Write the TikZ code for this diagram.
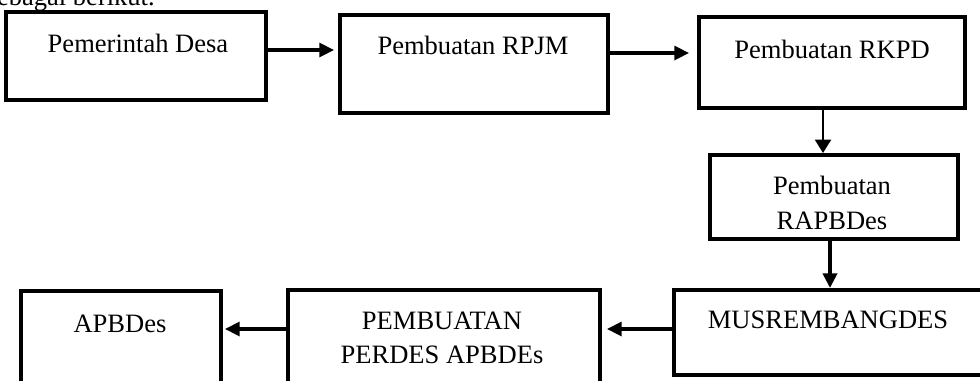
\documentclass[tikz,border=0pt]{standalone}
\usepackage{fontspec}
\setmainfont{Liberation Serif}
\usetikzlibrary{arrows.meta}
\begin{document}
\begin{tikzpicture}[x=0.75pt,y=-0.75pt,
  box/.style={draw,line width=3pt,inner sep=0pt,outer sep=0pt},
  lbl/.style={font=\fontsize{19.9}{26}\selectfont,align=center,inner sep=0pt},
  arr/.style={line width=2.3pt,-{Triangle[length=11pt,width=10.5pt]}},
  thinarr/.style={line width=1.5pt,-{Triangle[length=10pt,width=12pt]}}]
\useasboundingbox (0,0) rectangle (980,380);
\clip (0,0) rectangle (980,380);
% partially visible preceding text
\node[lbl,anchor=base east] (intro) at (155,5) {sebagai berikut.};
% boxes
\node[box,minimum width=195pt,minimum height=66pt] (b1) at (136,56) {};
\node[box,minimum width=201pt,minimum height=73.5pt] (b2) at (474,64) {};
\node[box,minimum width=199.5pt,minimum height=68.25pt] (b3) at (832,62.5) {};
\node[box,minimum width=186pt,minimum height=63pt] (b4) at (834,197) {};
\node[box,minimum width=231pt,minimum height=63.75pt] (b5) at (828,332.5) {};
\node[box,minimum width=234pt,minimum height=82.5pt] (b6) at (444,345) {};
\node[box,minimum width=150pt,minimum height=81.75pt] (b7) at (121,345.5) {};
% texts
\node[lbl] (t1) at (138,43) {Pemerintah Desa};
\node[lbl] (t2) at (473,45) {Pembuatan RPJM};
\node[lbl] (t3) at (832,49) {Pembuatan RKPD};
\node[lbl] (t4) at (832,203) {Pembuatan\\RAPBDes};
\node[lbl] (t5) at (828,320) {MUSREMBANGDES};
\node[lbl] (t6) at (442,338) {PEMBUATAN\\PERDES APBDEs};
\node[lbl] (t7) at (120,324) {APBDes};
% arrow end points
\coordinate (e1) at (334,50);
\coordinate (e2) at (689,53);
\coordinate (e3) at (823,153);
\coordinate (e4) at (830,288);
\coordinate (e5) at (607,329);
\coordinate (e6) at (225,329);
% connectors
\draw[arr] (b1.east |- e1) -- (e1);
\draw[arr] (b2.east |- e2) -- (e2);
\draw[thinarr] (b3.south -| e3) -- (e3);
\draw[arr,line width=3pt] (b4.south -| e4) -- (e4);
\draw[arr] (b5.west |- e5) -- (e5);
\draw[arr] (b6.west |- e6) -- (e6);
\end{tikzpicture}
\end{document}
